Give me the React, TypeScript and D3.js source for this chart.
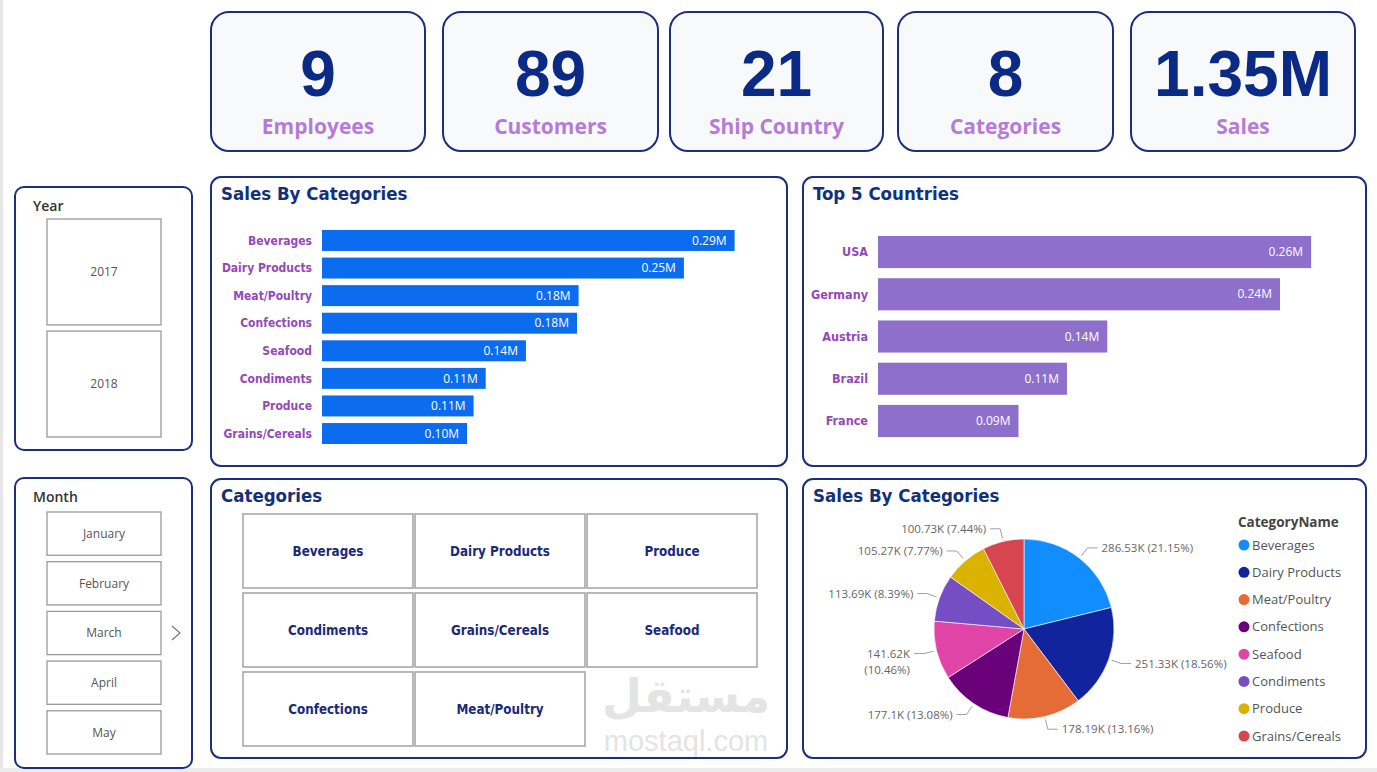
import React from 'react';
import * as d3 from 'd3';

const kpiValues = ['9', '89', '21', '8', '1.35M'];
const kpiLabels = ['Employees', 'Customers', 'Ship Country', 'Categories', 'Sales'];

const categories = ['Beverages', 'Dairy Products', 'Meat/Poultry', 'Confections', 'Seafood', 'Condiments', 'Produce', 'Grains/Cereals'];
const categorySales = [286.53, 251.33, 178.19, 177.1, 141.62, 113.69, 105.27, 100.73]; // thousands

const countries = ['USA', 'Germany', 'Austria', 'Brazil', 'France'];
const countrySales = [263.57, 244.64, 139.5, 114.97, 85.5]; // thousands

const gridCategories = ['Beverages', 'Dairy Products', 'Produce', 'Condiments', 'Grains/Cereals', 'Seafood', 'Confections', 'Meat/Poultry'];

const years = ['2017', '2018'];
const months = ['January', 'February', 'March', 'April', 'May'];

const pieColors = ['#118dff', '#12239e', '#e66c37', '#6b007b', '#e044a7', '#744ec2', '#d9b300', '#d64550'];

const W = 1377;
const H = 772;
const NAVY = '#1c2f7e';
const TITLE = '#13307a';
const PURPLE_LABEL = '#9449b8';
const condensed = "'Liberation Sans Narrow', 'DejaVu Sans Condensed', 'Roboto', sans-serif";
const ui = "'Open Sans', 'Noto Sans', sans-serif";

const fmtM = (k: number) => d3.format('.2f')(k / 1000) + 'M';
const fmtK = (k: number) => `${+k.toFixed(2)}K`;

const Panel = ({ x, y, w, h, title }: any) => (
  <g>
    <rect x={x} y={y} width={w} height={h} rx={10} fill="#fff" stroke={NAVY} strokeWidth={2} />
    {title && (
      <text x={x + 10} y={y + 23} fill={TITLE} fontFamily={condensed} fontWeight={700} fontSize={18.5}>
        {title}
      </text>
    )}
  </g>
);

const KpiCards = () => {
  const cardX = [211, 443, 670, 898, 1131];
  const cardW = [214, 215, 213, 215, 224];
  return (
    <g>
      {kpiValues.map((v, i) => {
        const cx = cardX[i] + cardW[i] / 2;
        return (
          <g key={i}>
            <rect x={cardX[i]} y={12} width={cardW[i]} height={139} rx={18} fill="#f8f9fa" stroke={NAVY} strokeWidth={2} />
            <text x={cx} y={96} textAnchor="middle" fill="#0a2a86" fontFamily="'Liberation Sans', Arial, sans-serif" fontWeight={700} fontSize={64}>
              {v}
            </text>
            <text x={cx} y={134} textAnchor="middle" fill="#b67bd6" fontFamily={ui} fontWeight={700} fontSize={21}>
              {kpiLabels[i]}
            </text>
          </g>
        );
      })}
    </g>
  );
};

const HBars = ({ names, values, x0, xMax, y0, y1, color, labelSize }: any) => {
  const y = d3.scaleBand<string>().domain(names).range([y0, y1]).paddingInner(0.24).paddingOuter(0);
  const x = d3.scaleLinear().domain([0, 300]).range([x0, xMax]);
  return (
    <g>
      {names.map((n: string, i: number) => {
        const by = y(n)!;
        const bw = x(values[i]) - x0;
        const mid = by + y.bandwidth() / 2;
        return (
          <g key={n}>
            <rect x={x0} y={by} width={bw} height={y.bandwidth()} fill={color} />
            <text x={x0 - 10} y={mid} dy="0.35em" textAnchor="end" fill={PURPLE_LABEL} fontFamily={condensed} fontWeight={700} fontSize={labelSize}>
              {n}
            </text>
            <text x={x0 + bw - 8} y={mid} dy="0.35em" textAnchor="end" fill="#fff" fontFamily={ui} fontSize={12}>
              {fmtM(values[i])}
            </text>
          </g>
        );
      })}
    </g>
  );
};

const CategoryGrid = () => {
  const col = d3.scaleBand<number>().domain([0, 1, 2]).range([243, 757]).paddingInner(0.012);
  const row = d3.scaleBand<number>().domain([0, 1, 2]).range([514, 746]).paddingInner(0.063);
  return (
    <g>
      {gridCategories.map((c, i) => {
        const cx = col(i % 3)!;
        const cy = row(Math.floor(i / 3))!;
        return (
          <g key={c}>
            <rect x={cx} y={cy} width={col.bandwidth()} height={row.bandwidth()} fill="#fff" stroke="#a8a8a8" strokeWidth={1.6} />
            <text x={cx + col.bandwidth() / 2} y={cy + row.bandwidth() / 2} dy="0.35em" textAnchor="middle" fill="#1b2a78" fontFamily={condensed} fontWeight={700} fontSize={13.3}>
              {c}
            </text>
          </g>
        );
      })}
    </g>
  );
};

const SalesPie = () => {
  const cx = 1024;
  const cy = 629;
  const r = 90;
  const total = d3.sum(categorySales);
  const pie = d3.pie<number>().sort(null).value((d) => d);
  const arcs = pie(categorySales);
  const arc = d3.arc<d3.PieArcDatum<number>>().innerRadius(0).outerRadius(r);
  const pt = (a: number, rad: number) => [Math.sin(a) * rad, -Math.cos(a) * rad];
  const legendY = d3.scalePoint<string>().domain(categories).range([545, 736]);
  return (
    <g>
      <g transform={`translate(${cx},${cy})`}>
        {arcs.map((a, i) => (
          <path key={i} d={arc(a)!} fill={pieColors[i]} stroke="#fff" strokeWidth={0.6} />
        ))}
        {arcs.map((a, i) => {
          const m = (a.startAngle + a.endAngle) / 2;
          const right = Math.sin(m) > 0;
          const p1 = pt(m, r + 3);
          const p2 = pt(m, r + 13);
          const p3 = [p2[0] + (right ? 10 : -10), p2[1]];
          const tx = p3[0] + (right ? 4 : -4);
          const pct = d3.format('.2f')((categorySales[i] / total) * 100);
          const deg = (m * 180) / Math.PI;
          const wrap = deg > 235 && deg < 270;
          return (
            <g key={'l' + i}>
              <polyline points={[p1, p2, p3].map((p) => p.join(',')).join(' ')} fill="none" stroke="#a0a0a0" strokeWidth={1} />
              {wrap ? (
                <text x={tx} y={p3[1]} dy="0.35em" textAnchor="end" fill="#666" fontFamily={ui} fontSize={11.5}>
                  <tspan x={tx}>{fmtK(categorySales[i])}</tspan>
                  <tspan x={tx} dy="1.45em">{`(${pct}%)`}</tspan>
                </text>
              ) : (
                <text x={tx} y={p3[1]} dy="0.35em" textAnchor={right ? 'start' : 'end'} fill="#666" fontFamily={ui} fontSize={11.5}>
                  {`${fmtK(categorySales[i])} (${pct}%)`}
                </text>
              )}
            </g>
          );
        })}
      </g>
      <text x={1238} y={527} fill="#444" fontFamily={ui} fontWeight={700} fontSize={13.5}>
        CategoryName
      </text>
      {categories.map((c, i) => (
        <g key={c}>
          <circle cx={1244} cy={legendY(c)!} r={5.5} fill={pieColors[i]} />
          <text x={1252} y={legendY(c)!} dy="0.35em" fill="#555" fontFamily={ui} fontSize={13}>
            {c}
          </text>
        </g>
      ))}
    </g>
  );
};

const Slicer = ({ y, h, title, items, top, bottom, chevron }: any) => {
  const band = d3.scaleBand<string>().domain(items).range([top, bottom]).paddingInner(items.length > 2 ? 0.13 : 0.055);
  return (
    <g>
      <rect x={15} y={y} width={177} height={h} rx={9} fill="#fff" stroke={NAVY} strokeWidth={2} />
      <text x={33} y={y + 24} fill="#333" fontFamily={ui} fontWeight={600} fontSize={14}>
        {title}
      </text>
      {items.map((it: string) => (
        <g key={it}>
          <rect x={47} y={band(it)!} width={114} height={band.bandwidth()} fill="#fff" stroke="#9a9a9a" strokeWidth={1.3} />
          <text x={104} y={band(it)! + band.bandwidth() / 2} dy="0.35em" textAnchor="middle" fill="#555" fontFamily={ui} fontSize={12}>
            {it}
          </text>
        </g>
      ))}
      {chevron && <polyline points="172,626 180,633 172,640" fill="none" stroke="#777" strokeWidth={1.2} />}
    </g>
  );
};

export default function App() {
  return (
    <div style={{ position: 'fixed', left: 0, top: 0, width: W, height: H, background: '#fff' }}>
      <svg width={W} height={H} style={{ display: 'block' }}>
        <rect x={0} y={0} width={W} height={H} fill="#fff" />
        <rect x={0} y={0} width={3} height={H} fill="#e6e6e6" />
        <rect x={0} y={768} width={W} height={4} fill="#ececec" />

        <KpiCards />

        <Slicer y={187} h={263} title="Year" items={years} top={219} bottom={437} />
        <Slicer y={478} h={290} title="Month" items={months} top={512} bottom={754} chevron />

        <Panel x={211} y={177} w={576} h={289} title="Sales By Categories" />
        <HBars names={categories} values={categorySales} x0={322} xMax={754} y0={230} y1={444} color="#0b6cf0" labelSize={12} />

        <Panel x={803} y={177} w={563} h={289} title="Top 5 Countries" />
        <HBars names={countries} values={countrySales} x0={878} xMax={1371} y0={236} y1={437} color="#8e6fcb" labelSize={12.5} />

        <Panel x={211} y={479} w={576} h={279} title="Categories" />
        <CategoryGrid />
        <text x={686} y={712} textAnchor="middle" fill="#e4e4e4" fontFamily="'DejaVu Sans', sans-serif" fontWeight={700} fontSize={46}>
          مستقل
        </text>
        <text x={686} y={751} textAnchor="middle" fill="#e4e4e4" fontFamily="'Liberation Sans', sans-serif" fontSize={29}>
          mostaql.com
        </text>

        <Panel x={803} y={479} w={563} h={279} title="Sales By Categories" />
        <SalesPie />
      </svg>
    </div>
  );
}
